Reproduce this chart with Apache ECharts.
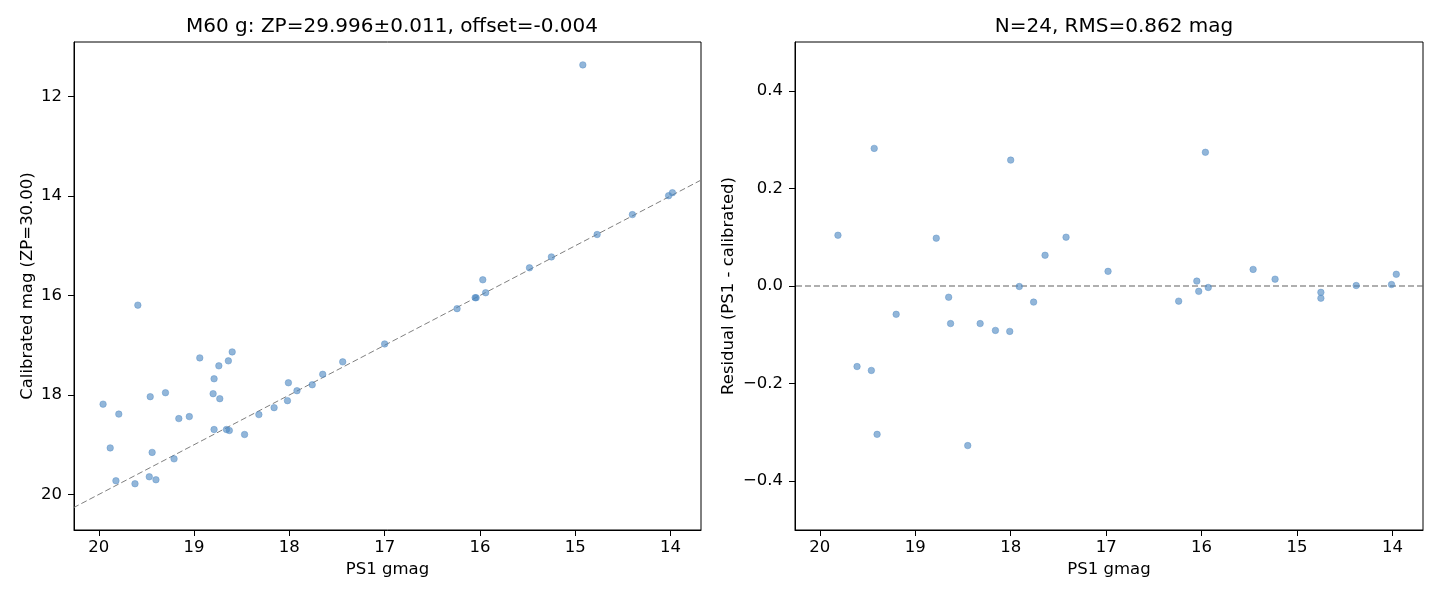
<!DOCTYPE html>
<html>
<head>
<meta charset="utf-8">
<title>M60 g calibration</title>
<script src="https://cdn.jsdelivr.net/npm/echarts@6/dist/echarts.min.js"></script>
<style>
  html, body { margin: 0; padding: 0; background: #fff; }
  #chart { width: 1440px; height: 600px; }
</style>
</head>
<body>
<div id="chart"></div>
<script>
// PS1 gmag vs calibrated mag (left panel)
const calibPoints = [
  [19.955, 18.18], [19.88, 19.06], [19.79, 18.38], [19.82, 19.72], [19.62, 19.78],
  [19.59, 16.19], [19.47, 19.64], [19.46, 18.03], [19.44, 19.15], [19.40, 19.70],
  [19.30, 17.95], [19.21, 19.28], [19.16, 18.47], [19.05, 18.43], [18.94, 17.25],
  [18.79, 17.67], [18.80, 17.97], [18.79, 18.69], [18.74, 17.41], [18.73, 18.07],
  [18.66, 18.69], [18.64, 17.31], [18.63, 18.71], [18.60, 17.13], [18.47, 18.79],
  [18.32, 18.39], [18.16, 18.25], [18.02, 18.11], [18.01, 17.75], [17.92, 17.91],
  [17.76, 17.79], [17.65, 17.58], [17.44, 17.33], [17.00, 16.97], [16.24, 16.26],
  [16.05, 16.04], [16.04, 16.04], [15.97, 15.68], [15.94, 15.94], [15.48, 15.44],
  [15.25, 15.22], [14.92, 11.36], [14.77, 14.77], [14.40, 14.37], [14.02, 13.99],
  [13.98, 13.93]
];

// PS1 gmag vs residual (right panel)
const residPoints = [
  [19.81, 0.104], [19.43, 0.282], [18.00, 0.258], [18.78, 0.098], [17.64, 0.063],
  [17.91, -0.001], [18.65, -0.023], [17.76, -0.033], [19.20, -0.058], [18.63, -0.077],
  [18.32, -0.077], [18.16, -0.091], [18.01, -0.093], [19.61, -0.165], [19.46, -0.173],
  [19.40, -0.304], [18.45, -0.327], [15.96, 0.274], [17.42, 0.100], [16.98, 0.030],
  [16.05, 0.010], [16.03, -0.011], [15.93, -0.003], [16.24, -0.031], [15.46, 0.034],
  [15.23, 0.014], [14.75, -0.013], [14.75, -0.025], [14.38, 0.001], [14.01, 0.003],
  [13.96, 0.024]
];

const zpOffset = -0.004;
const xTicks = [20, 19, 18, 17, 16, 15, 14];
const calibTicks = [12, 14, 16, 18, 20];
const residTicks = [-0.4, -0.2, 0, 0.2, 0.4];

const xMin = 13.68, xMax = 20.26;
const font = 'DejaVu Sans';
const labelSize = 16.5;

const fitLine = [[xMin, xMin + zpOffset], [xMax, xMax + zpOffset]];
const zeroLine = [[xMin, 0], [xMax, 0]];

function fmtMinus(v, digits) {
  const s = Math.abs(v).toFixed(digits);
  return v < -1e-9 ? '\u2212' + s : s;
}

function xAxisFor(gridIndex) {
  return {
    type: 'value', gridIndex: gridIndex, inverse: true,
    min: xMin, max: xMax,
    name: 'PS1 gmag', nameLocation: 'middle', nameGap: 31,
    nameTextStyle: { fontFamily: font, fontSize: labelSize, color: '#000' },
    axisLine: { show: true, onZero: false, lineStyle: { color: '#000', width: 1 } },
    axisTick: { show: true, inside: false, length: 6, lineStyle: { color: '#000' }, customValues: xTicks },
    axisLabel: { fontFamily: font, fontSize: labelSize, color: '#000', margin: 9, customValues: xTicks,
      formatter: v => String(Math.round(v)) },
    splitLine: { show: false }
  };
}

const dotStyle = { color: '#4a86c0', opacity: 0.6, borderColor: '#5a92c8', borderWidth: 0.8 };
const titleStyle = { fontFamily: font, fontSize: 20, fontWeight: 'normal', color: '#000' };

const chart = echarts.init(document.getElementById('chart'), null, { renderer: 'canvas' });
chart.setOption({
  animation: false,
  backgroundColor: '#fff',
  title: [
    { text: 'M60 g: ZP=29.996\u00b10.011, offset=-0.004', left: 387, top: 12, textAlign: 'center',
      textStyle: titleStyle },
    { text: 'N=24, RMS=0.862 mag', left: 1109, top: 12, textAlign: 'center',
      textStyle: titleStyle }
  ],
  grid: [
    { left: 74, top: 42, width: 627, height: 488, show: true, borderColor: '#000', borderWidth: 1 },
    { left: 795, top: 42, width: 628, height: 488, show: true, borderColor: '#000', borderWidth: 1 }
  ],
  xAxis: [xAxisFor(0), xAxisFor(1)],
  yAxis: [
    {
      type: 'value', gridIndex: 0, inverse: true, min: 10.90, max: 20.71,
      name: 'Calibrated mag (ZP=30.00)', nameLocation: 'middle', nameGap: 38,
      nameTextStyle: { fontFamily: font, fontSize: labelSize, color: '#000' },
      axisLine: { show: true, onZero: false, lineStyle: { color: '#000', width: 1 } },
      axisTick: { show: true, inside: false, length: 6, lineStyle: { color: '#000' }, customValues: calibTicks },
      axisLabel: { fontFamily: font, fontSize: labelSize, color: '#000', margin: 12, customValues: calibTicks,
        formatter: v => String(Math.round(v)) },
      splitLine: { show: false }
    },
    {
      type: 'value', gridIndex: 1, min: -0.5, max: 0.5,
      name: 'Residual (PS1 - calibrated)', nameLocation: 'middle', nameGap: 58,
      nameTextStyle: { fontFamily: font, fontSize: labelSize, color: '#000' },
      axisLine: { show: true, onZero: false, lineStyle: { color: '#000', width: 1 } },
      axisTick: { show: true, inside: false, length: 6, lineStyle: { color: '#000' }, customValues: residTicks },
      axisLabel: { fontFamily: font, fontSize: labelSize, color: '#000', margin: 12, customValues: residTicks,
        formatter: v => fmtMinus(v, 1) },
      splitLine: { show: false }
    }
  ],
  series: [
    { type: 'line', xAxisIndex: 0, yAxisIndex: 0, data: fitLine, symbol: 'none', silent: true,
      lineStyle: { color: '#808080', width: 1, type: [6, 3] }, z: 1 },
    { type: 'scatter', xAxisIndex: 0, yAxisIndex: 0, data: calibPoints, symbolSize: 6.5,
      itemStyle: dotStyle, z: 2 },
    { type: 'line', xAxisIndex: 1, yAxisIndex: 1, data: zeroLine, symbol: 'none', silent: true,
      lineStyle: { color: '#606060', width: 1.1, type: [6, 3] }, z: 1 },
    { type: 'scatter', xAxisIndex: 1, yAxisIndex: 1, data: residPoints, symbolSize: 6.5,
      itemStyle: dotStyle, z: 2 }
  ]
});
</script>
</body>
</html>
